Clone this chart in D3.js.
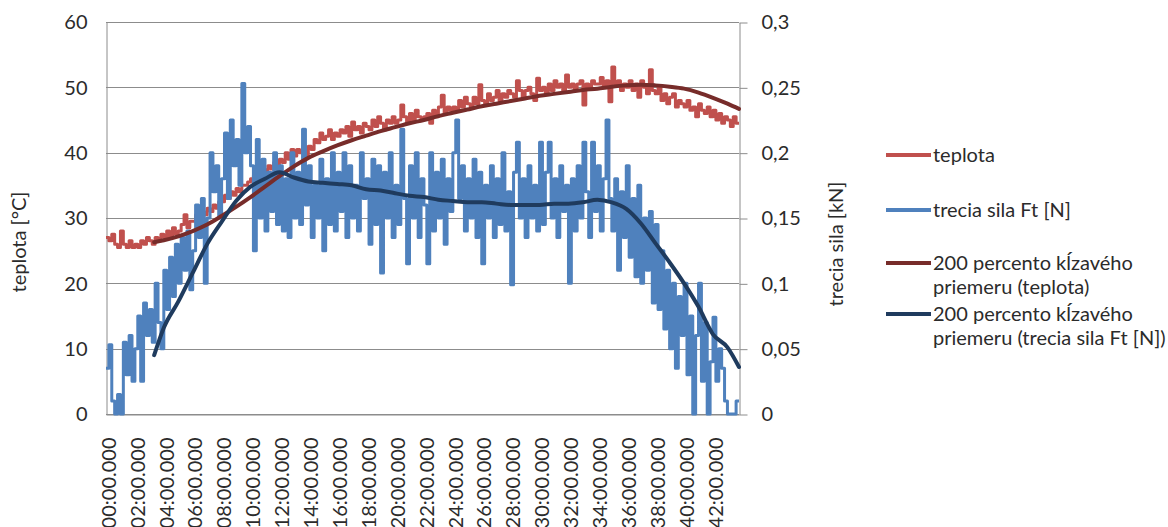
<!DOCTYPE html>
<html>
<head>
<meta charset="utf-8">
<script src="https://cdn.jsdelivr.net/npm/d3@7"></script>
<style>
  body { margin: 0; background: #fff; }
  text { font-family: Lato, "Open Sans", sans-serif; fill: #2b2b2b; }
</style>
</head>
<body>
<div id="chart"></div>
<script>
// samples every 12 s (x = index * sampleStep)
var sampleStep = 12;

var xTickLabels = ["00:00.000","02:00.000","04:00.000","06:00.000","08:00.000","10:00.000","12:00.000",
  "14:00.000","16:00.000","18:00.000","20:00.000","22:00.000","24:00.000","26:00.000","28:00.000",
  "30:00.000","32:00.000","34:00.000","36:00.000","38:00.000","40:00.000","42:00.000"];
var tempTicks = [0, 10, 20, 30, 40, 50, 60];
var forceTicks = [0, 0.05, 0.1, 0.15, 0.2, 0.25, 0.3];

// teplota [°C]
var teplota = [
  27, 26.5, 27.5, 26, 25.5, 28, 26, 25.5, 26.5, 25.5,
  26, 25.5, 26.5, 26, 27, 26.5, 26, 27, 26.5, 27.5,
  27, 28, 27, 28.5, 27.5, 28, 29, 30.5, 28.5, 29.5,
  29.5, 30.5, 30, 31, 30.5, 31.5, 31, 32, 31.5, 32.5,
  32.5, 33.5, 33, 34, 33.5, 34.5, 34, 35, 35, 35.5,
  36, 36.5, 36, 37, 37.5, 37, 38, 37.5, 38.5, 38,
  39, 38.5, 40, 39, 40.5, 39.5, 40.5, 40, 41, 39.5,
  41, 40.5, 42, 41.5, 43, 42, 42.5, 43.5, 42, 43,
  42.5, 43.5, 43, 44, 42.5, 44.7, 43.5, 44, 43, 44.5,
  44, 43.5, 45, 44, 45.5, 44.5, 43.5, 45, 44.5, 45.5,
  44.5, 45, 47.3, 45.5, 44.5, 46, 45, 46.5, 45.5, 45,
  45.5, 46, 44.5, 46.5, 45.5, 47, 48.8, 46, 47, 46.5,
  47, 46.5, 48, 47, 48.5, 47.5, 47, 48.5, 47.5, 50.4,
  48, 47.5, 49, 48, 48.5, 49.5, 48, 49, 48.5, 49.5,
  49, 48.5, 51, 49.5, 48.5, 49.5, 50, 49, 48, 51.4,
  49.5, 50, 49, 50.5, 49.5, 51, 50, 50.5, 49.5, 51.9,
  50, 50.5, 49.5, 50.5, 51, 47.3, 50.5, 50, 51, 50.5,
  50.5, 51.5, 50, 51, 47.8, 53.1, 50.5, 51, 49.5, 50.5,
  50, 51, 49.5, 50.5, 48.5, 51, 50, 49, 52.7, 49.5,
  49, 50, 48, 49, 47.5, 48.5, 49, 47, 48, 47.5,
  47, 48, 46.5, 47, 45.5, 47.5, 46.5, 46, 47, 45.5,
  46.5, 45, 46, 44.5, 45.5, 45, 44, 45.5, 44.5, 44.5
];

// trecia sila Ft [kN]
var treciaSila = [
  0.035, 0.053, 0.010, 0, 0.015, 0, 0.055, 0.030, 0.060, 0.025,
  0.050, 0.075, 0.025, 0.085, 0.060, 0.080, 0.055, 0.100, 0.070, 0.050,
  0.110, 0.080, 0.120, 0.090, 0.130, 0.100, 0.135, 0.110, 0.140, 0.095,
  0.125, 0.160, 0.135, 0.165, 0.100, 0.150, 0.200, 0.170, 0.190, 0.150,
  0.180, 0.215, 0.165, 0.225, 0.190, 0.210, 0.175, 0.253, 0.200, 0.220,
  0.190, 0.125, 0.210, 0.150, 0.195, 0.140, 0.185, 0.155, 0.200, 0.145,
  0.190, 0.140, 0.180, 0.135, 0.200, 0.150, 0.185, 0.145, 0.218, 0.160,
  0.190, 0.135, 0.175, 0.150, 0.195, 0.125, 0.180, 0.145, 0.200, 0.140,
  0.185, 0.155, 0.200, 0.135, 0.190, 0.150, 0.175, 0.140, 0.200, 0.165,
  0.180, 0.130, 0.195, 0.145, 0.190, 0.108, 0.185, 0.150, 0.200, 0.135,
  0.175, 0.145, 0.218, 0.165, 0.115, 0.190, 0.150, 0.200, 0.135, 0.180,
  0.160, 0.115, 0.200, 0.140, 0.185, 0.150, 0.195, 0.130, 0.180, 0.155,
  0.200, 0.225, 0.165, 0.190, 0.140, 0.180, 0.150, 0.195, 0.135, 0.185,
  0.115, 0.175, 0.150, 0.190, 0.135, 0.180, 0.145, 0.200, 0.140, 0.170,
  0.099, 0.185, 0.208, 0.150, 0.180, 0.135, 0.190, 0.150, 0.175, 0.140,
  0.208, 0.145, 0.185, 0.208, 0.150, 0.180, 0.135, 0.190, 0.155, 0.175,
  0.100, 0.180, 0.140, 0.190, 0.150, 0.208, 0.170, 0.135, 0.208, 0.155,
  0.190, 0.140, 0.180, 0.225, 0.165, 0.140, 0.180, 0.110, 0.170, 0.135,
  0.190, 0.120, 0.165, 0.105, 0.175, 0.100, 0.150, 0.110, 0.155, 0.085,
  0.145, 0.080, 0.125, 0.065, 0.110, 0.050, 0.100, 0.035, 0.090, 0.060,
  0.100, 0.030, 0.075, 0, 0.060, 0.100, 0.025, 0.070, 0, 0.040,
  0.074, 0.025, 0.050, 0.035, 0.010, 0, 0, 0, 0.010, 0.010
];

// 200-point moving averages, time in seconds
var maTimes = [200, 240, 300, 360, 420, 480, 540, 600, 660, 720, 780, 840, 900, 960, 1020, 1080,
  1140, 1200, 1260, 1320, 1380, 1440, 1500, 1560, 1620, 1680, 1740, 1800, 1860, 1920, 1980,
  2040, 2100, 2160, 2220, 2280, 2340, 2400, 2460, 2520, 2580, 2628];
var maTeplota = [26.3, 26.6, 27.2, 28.0, 29.0, 30.3, 31.7, 33.2, 34.8, 36.4, 37.9, 39.2, 40.2, 41.1,
  41.9, 42.6, 43.3, 43.9, 44.5, 45.0, 45.6, 46.1, 46.6, 47.1, 47.5, 47.9, 48.3, 48.7, 49.0, 49.3,
  49.6, 49.8, 50.1, 50.3, 50.4, 50.3, 50.1, 49.8, 49.2, 48.4, 47.5, 46.7];
var maTrecia = [0.045, 0.066, 0.086, 0.108, 0.130, 0.147, 0.163, 0.174, 0.180, 0.185, 0.181, 0.178,
  0.177, 0.176, 0.175, 0.172, 0.171, 0.169, 0.167, 0.166, 0.164, 0.163, 0.162, 0.162, 0.161, 0.160,
  0.160, 0.160, 0.161, 0.161, 0.162, 0.164, 0.162, 0.157, 0.146, 0.131, 0.116, 0.100, 0.082, 0.061,
  0.051, 0.036];

var legendItems = [
  {lines: ["teplota"], color: "#c0504d", y: 155},
  {lines: ["trecia sila Ft [N]"], color: "#4f81bd", y: 210},
  {lines: ["200 percento kĺzavého", "priemeru (teplota)"], color: "#772c2a", y: 263},
  {lines: ["200 percento kĺzavého", "priemeru (trecia sila Ft [N])"], color: "#1f3b5e", y: 314}
];

var width = 1168, height = 527;
var plot = {left: 106, right: 739, top: 22, bottom: 414};
var fontSize = 20;

var svg = d3.select("#chart").append("svg")
  .attr("width", width)
  .attr("height", height);

svg.append("rect").attr("width", width).attr("height", height).attr("fill", "#fff");

var x = d3.scaleLinear().domain([0, (teplota.length - 1) * sampleStep]).range([plot.left, plot.right]);
var yL = d3.scaleLinear().domain([0, 60]).range([plot.bottom, plot.top]);
var yR = d3.scaleLinear().domain([0, 0.3]).range([plot.bottom, plot.top]);

// gridlines
svg.append("g")
  .selectAll("line")
  .data(tempTicks)
  .enter().append("line")
  .attr("x1", plot.left)
  .attr("x2", plot.right)
  .attr("y1", function(d) { return Math.round(yL(d)) + 0.5; })
  .attr("y2", function(d) { return Math.round(yL(d)) + 0.5; })
  .attr("stroke", "#8c8c8c")
  .attr("stroke-width", 1);

// left axis
var gL = svg.append("g")
  .attr("transform", "translate(" + (plot.left + 0.5) + ",0.5)")
  .call(d3.axisLeft(yL).tickValues(tempTicks).tickSize(0).tickPadding(19));
gL.select(".domain").attr("stroke", "#8c8c8c");
gL.selectAll("text").style("font-size", fontSize + "px").attr("fill", "#2b2b2b");

// right axis
var gR = svg.append("g")
  .attr("transform", "translate(" + (plot.right + 0.5) + ",0.5)")
  .call(d3.axisRight(yR).tickValues(forceTicks).tickSize(8).tickSizeOuter(0).tickPadding(14)
    .tickFormat(function(d) { return String(+d.toFixed(2)).replace(".", ","); }));
gR.select(".domain").attr("stroke", "#8c8c8c");
gR.selectAll("line").attr("stroke", "#8c8c8c");
gR.selectAll("text").style("font-size", fontSize + "px").attr("fill", "#2b2b2b");

// bottom axis
var gB = svg.append("g")
  .attr("transform", "translate(0," + (plot.bottom + 0.5) + ")")
  .call(d3.axisBottom(x)
    .tickValues(xTickLabels.map(function(d, i) { return i * 120; }))
    .tickSize(0)
    .tickFormat(function(d, i) { return xTickLabels[i]; }));
gB.select(".domain").attr("stroke", "#8c8c8c");
gB.selectAll("text")
  .style("font-size", fontSize + "px")
  .attr("fill", "#2b2b2b")
  .style("text-anchor", "end")
  .attr("x", -23)
  .attr("y", 2)
  .attr("dy", "0.36em")
  .attr("transform", "rotate(-90)");

// series
var line = d3.line()
  .x(function(d, i) { return x(i * sampleStep); })
  .curve(d3.curveStepAfter);

svg.append("path")
  .attr("d", line.y(function(d) { return yL(d); })(teplota))
  .attr("fill", "none")
  .attr("stroke", "#c0504d")
  .attr("stroke-width", 3)
  .attr("stroke-linejoin", "round");

svg.append("path")
  .attr("d", line.y(function(d) { return yR(d); })(treciaSila))
  .attr("fill", "none")
  .attr("stroke", "#4f81bd")
  .attr("stroke-width", 3)
  .attr("stroke-linejoin", "round");

var maLine = d3.line()
  .x(function(d, i) { return x(maTimes[i]); })
  .curve(d3.curveMonotoneX);

svg.append("path")
  .attr("d", maLine.y(function(d) { return yL(d); })(maTeplota))
  .attr("fill", "none")
  .attr("stroke", "#772c2a")
  .attr("stroke-width", 4)
  .attr("stroke-linecap", "round");

svg.append("path")
  .attr("d", maLine.y(function(d) { return yR(d); })(maTrecia))
  .attr("fill", "none")
  .attr("stroke", "#1f3b5e")
  .attr("stroke-width", 4)
  .attr("stroke-linecap", "round");

// axis titles
svg.append("text")
  .attr("transform", "translate(19,242) rotate(-90)")
  .attr("text-anchor", "middle")
  .attr("dy", "0.36em")
  .style("font-size", fontSize + "px")
  .text("teplota [°C]");

svg.append("text")
  .attr("transform", "translate(836,244) rotate(-90)")
  .attr("text-anchor", "middle")
  .attr("dy", "0.36em")
  .style("font-size", fontSize + "px")
  .text("trecia sila [kN]");

// legend
var leg = svg.append("g");
legendItems.forEach(function(item) {
  leg.append("line")
    .attr("x1", 886).attr("x2", 931)
    .attr("y1", item.y).attr("y2", item.y)
    .attr("stroke", item.color)
    .attr("stroke-width", 4);
  item.lines.forEach(function(t, k) {
    leg.append("text")
      .attr("x", 933)
      .attr("y", item.y + k * 24)
      .attr("dy", "0.36em")
      .style("font-size", fontSize + "px")
      .text(t);
  });
});
</script>
</body>
</html>
